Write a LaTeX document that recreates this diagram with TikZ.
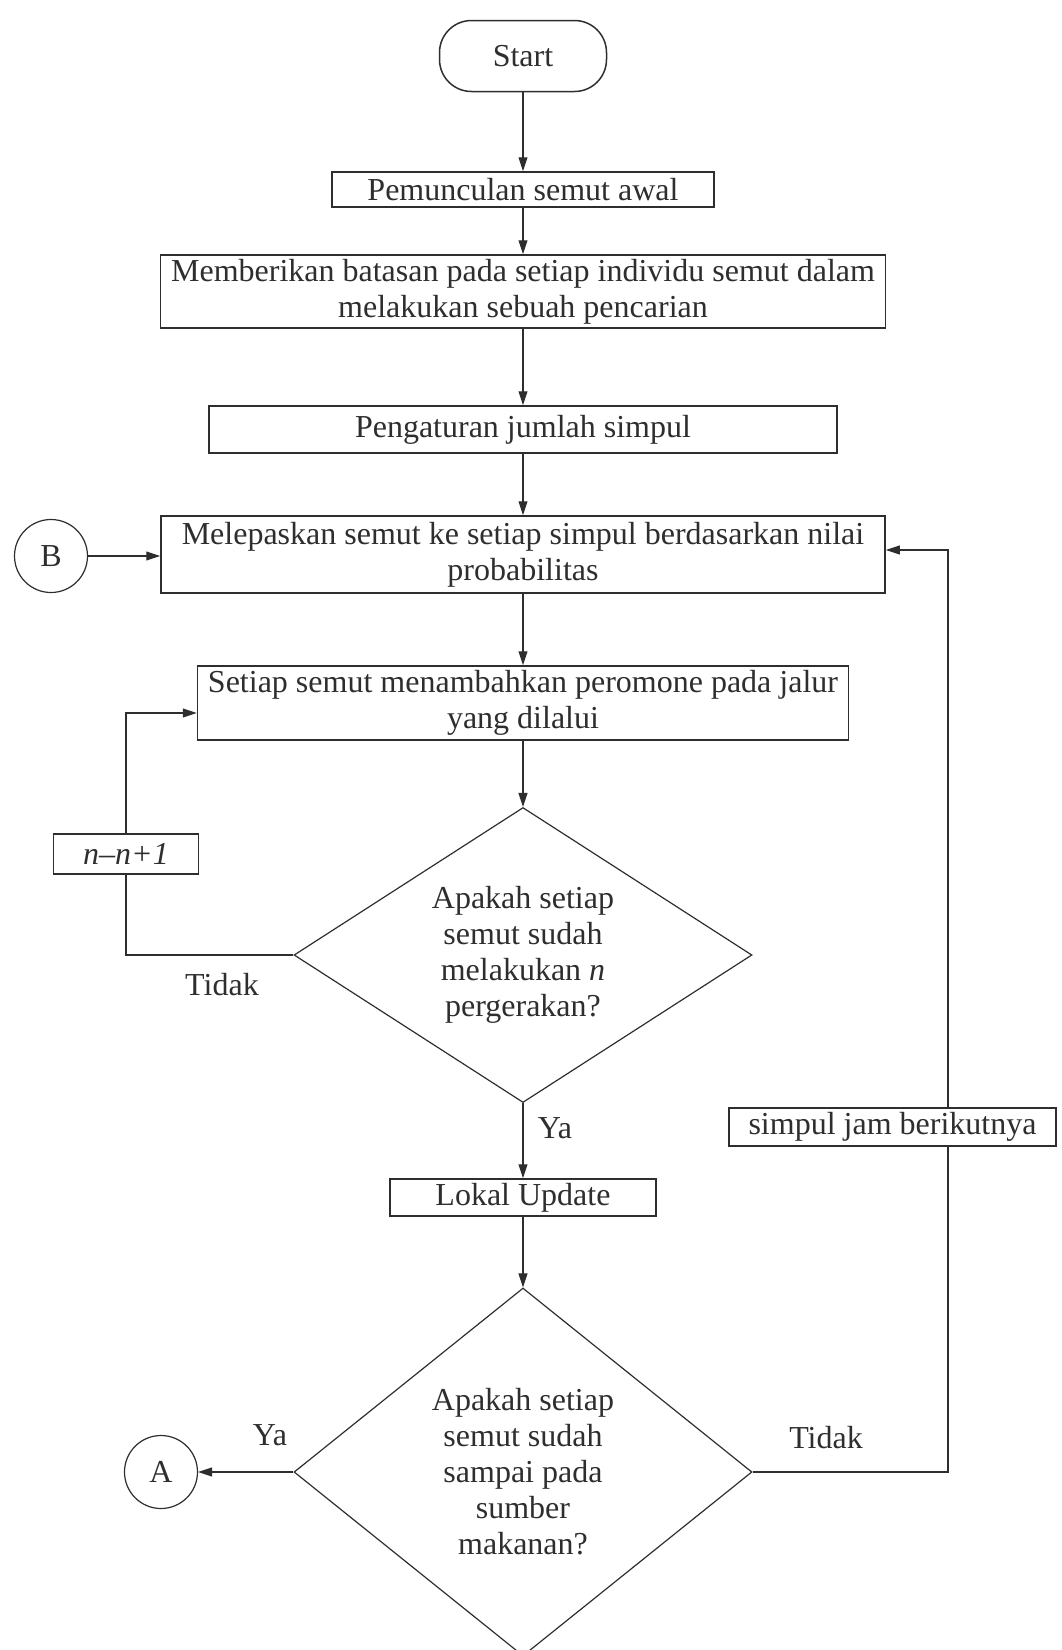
\documentclass[tikz,border=0pt]{standalone}
\usepackage{fontspec}
\setmainfont{Liberation Serif}
\usetikzlibrary{shapes.geometric,arrows.meta,calc}
\definecolor{ink}{gray}{0.18}
\begin{document}
\begin{tikzpicture}[x=1pt,y=-1pt,
  font=\fontsize{32}{36}\selectfont,
  every node/.style={text=ink},
  box/.style={draw=ink, line width=1.5pt, rectangle, inner sep=0pt, align=center, fill=white},
  term/.style={box, rounded corners=32pt},
  dia/.style={draw=ink, line width=1.2pt, diamond, inner sep=0pt},
  conn/.style={circle, draw=ink, line width=1.2pt, minimum size=73pt, inner sep=0pt},
  arr/.style={draw=ink, line width=1.1pt, -{Triangle[length=14pt,width=9pt]}},
  lbl/.style={inner sep=0pt}
]
\useasboundingbox (0,0) rectangle (1061,1650);

\node[term, minimum width=167pt, minimum height=71pt] (start) at (523,56) {Start};
\node[box, minimum width=382pt, minimum height=35pt] (pem) at (523,189.5) {Pemunculan semut awal};
\node[box, minimum width=725pt, minimum height=73pt] (mem) at (523,291.5) {Memberikan batasan pada setiap individu semut dalam\\melakukan sebuah pencarian};
\node[box, minimum width=628pt, minimum height=47pt] (peng) at (523,429.5) {Pengaturan jumlah simpul};
\node[box, minimum width=724pt, minimum height=77pt] (mel) at (523,554.5) {Melepaskan semut ke setiap simpul berdasarkan nilai\\probabilitas};
\node[box, minimum width=651pt, minimum height=74pt] (set) at (523,703) {Setiap semut menambahkan peromone pada jalur\\yang dilalui};
\node[dia, minimum width=458pt, minimum height=295pt,
  label={[align=center,lbl]center:{Apakah setiap\\semut sudah\\melakukan \textit{n}\\pergerakan?}}] (d1) at (523,955) {};
\node[box, minimum width=266pt, minimum height=37pt] (lok) at (523,1197.5) {Lokal Update};
\node[dia, minimum width=458pt, minimum height=368pt,
  label={[align=center,lbl]center:{Apakah setiap\\semut sudah\\sampai pada\\sumber\\makanan?}}] (d2) at (523,1472) {};
\node[conn] (B) at (51,556) {B};
\node[conn] (A) at (161,1472) {A};

\draw[arr] (start) -- (pem);
\draw[arr] (pem) -- (mem);
\draw[arr] (mem) -- (peng);
\draw[arr] (peng) -- (mel);
\draw[arr] (mel) -- (set);
\draw[arr] (set) -- (d1);
\draw[arr] (d1) -- (lok);
\draw[arr] (lok) -- (d2);
\draw[arr] (B) -- (B -| mel.west);
\draw[arr] (d2.west) -- (A);

\coordinate (L) at (126,713);
\draw[arr] (d1.west) -| (L) -- (L -| set.west);
\coordinate (R) at (948,550);
\draw[arr] (d2.east) -| (R) -- (R -| mel.east);

\node[box, minimum width=145pt, minimum height=40pt] (nb) at (126,854) {\textit{n–n+1}};
\node[box, minimum width=327pt, minimum height=38pt] (sim) at (892.5,1127) {simpul jam berikutnya};

\node[lbl] (t1) at (222,985) {Tidak};
\node[lbl] (y1) at (555,1128) {Ya};
\node[lbl] (y2) at (270,1435) {Ya};
\node[lbl] (t2) at (826,1438) {Tidak};
\end{tikzpicture}
\end{document}
